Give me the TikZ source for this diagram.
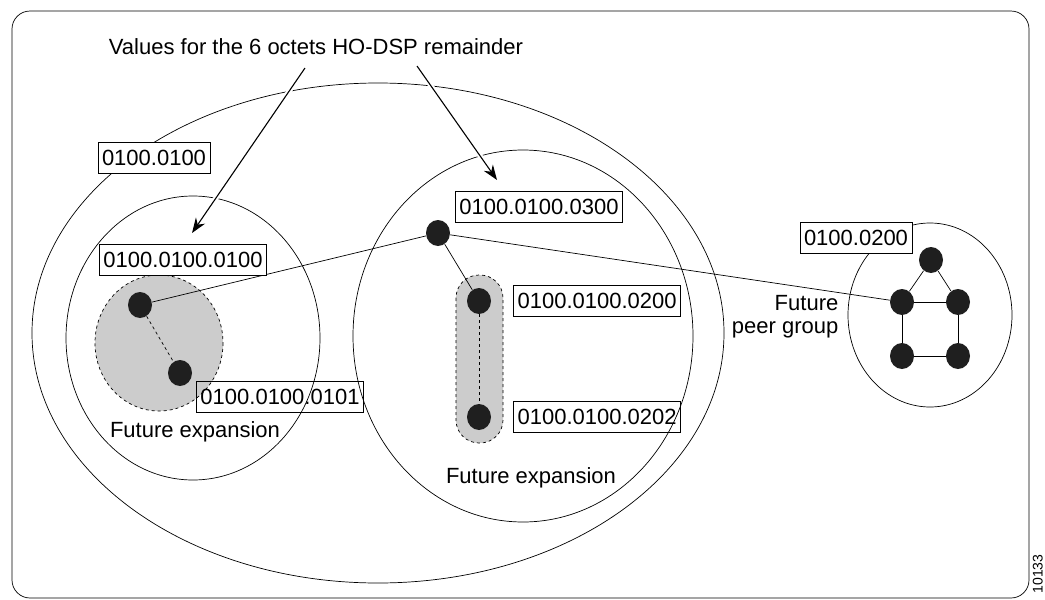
\documentclass[tikz,border=0pt]{standalone}
\usepackage{fontspec}
\setmainfont{Liberation Sans}
\usetikzlibrary{arrows.meta, shapes.geometric, positioning}

\begin{document}
\begin{tikzpicture}[x=1pt, y=-1pt, >={Stealth[length=15pt, width=11pt]}, line width=0.7pt,
    font=\fontsize{22}{23}\selectfont,
    dot/.style={ellipse, fill=black!88, inner sep=0pt, minimum width=24pt, minimum height=26pt},
    addr/.style={draw, fill=white, inner xsep=4pt, inner ysep=0pt, minimum height=31pt, line width=0.6pt},
    zone/.style={draw, dashed, fill=black!20},
    pointer/.style={->, line width=1.1pt, preaction={draw=white, line width=5pt, arrows=-}}]
      \useasboundingbox (0,0) rectangle (1045,600);
      \draw[rounded corners=18pt] (12,11) rectangle (1029,598);

      % peer groups
      \draw (378,333) ellipse [x radius=346, y radius=250];
      \draw (193,338) ellipse [x radius=127, y radius=142];
      \draw (523,336) ellipse [x radius=170, y radius=186];
      \draw (930,315) ellipse [x radius=82, y radius=92];

      % future expansion areas
      \draw[zone] (159,343) ellipse [x radius=64, y radius=68];
      \draw[zone, rounded corners=23pt] (456,275) rectangle (503,443);

      \node[dot] (l1) at (140,305) {};
      \node[dot] (l2) at (180,373) {};
      \node[dot] (m0) at (438,233) {};
      \node[dot] (m1) at (479,301) {};
      \node[dot] (m2) at (479,417) {};
      \node[dot] (r1) at (931,260) {};
      \node[dot] (r2) at (902,302) {};
      \node[dot] (r3) at (958,302) {};
      \node[dot] (r4) at (902,356) {};
      \node[dot] (r5) at (958,356) {};

      \path (m0) edge (l1) (m0) edge (r2) (m0) edge (m1)
      (l1) edge[dashed] (l2) (m1) edge[dashed] (m2)
      (r1) edge (r2) (r1) edge (r3) (r2) edge (r3)
      (r2) edge (r4) (r3) edge (r5) (r4) edge (r5);

      \node[addr] (a1) at (154,158) {0100.0100};
      \node[addr] (a11) at (183,260) {0100.0100.0100};
      \node[addr, fill=none] (a12) at (280,397) {0100.0100.0101};
      \node[addr] (a13) at (539,207) {0100.0100.0300};
      \node[addr] (a14) [right=22pt of m1] {0100.0100.0200};
      \node[addr, fill=none] (a15) [right=22pt of m2] {0100.0100.0202};
      \node[addr] (a2) at (856,238) {0100.0200};

      \node (fe1) at (195,432) {Future expansion};
      \node (fe2) at (531,478) {Future expansion};
      \node[align=right, anchor=east] (fp) at (842,317) {Future\\peer group};

      \node (title) at (316,47) {Values for the 6 octets HO-DSP remainder};
      \coordinate (t1) at (305,68);
      \coordinate (t2) at (417,66);
      \coordinate (e1) at (192,233);
      \coordinate (e2) at (497,180);
      \draw[pointer] (t1) -- (e1);
      \draw[pointer] (t2) -- (e2);

      \node[rotate=90, anchor=south, inner sep=1pt, font=\fontsize{14}{14}\selectfont] (fig) at (1044,574) {10133};
    \end{tikzpicture}
\end{document}
